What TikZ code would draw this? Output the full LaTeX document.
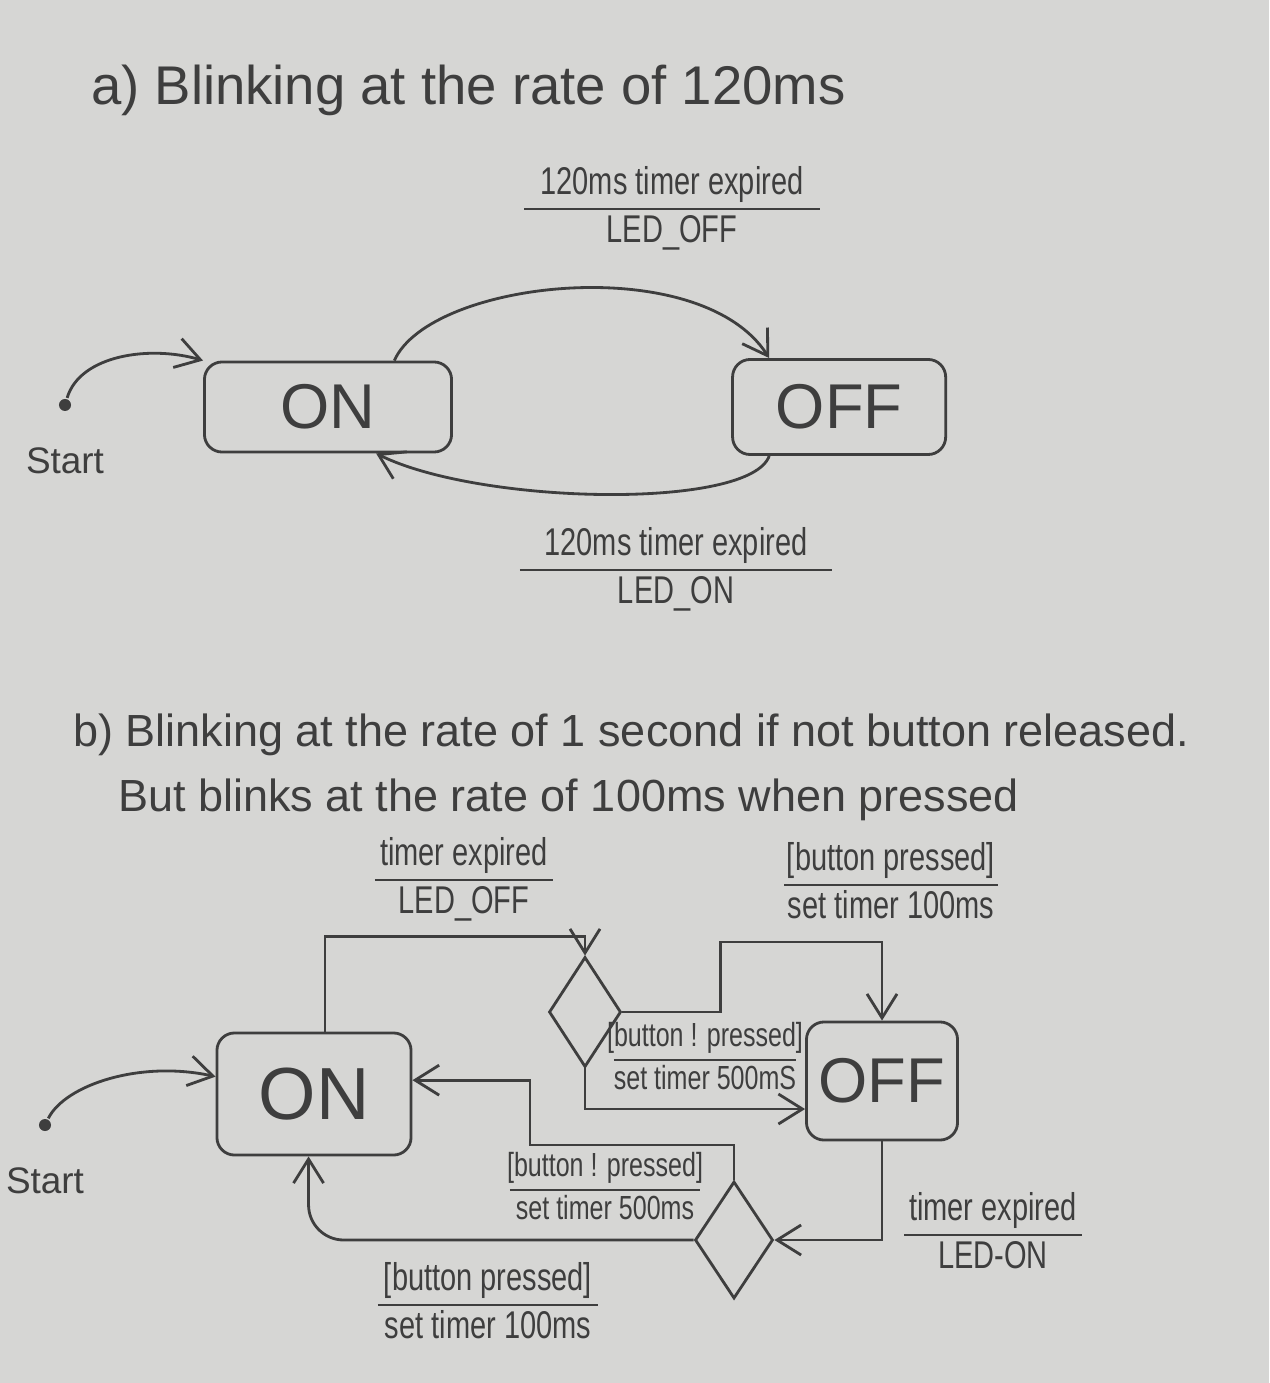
\documentclass[tikz,border=0pt]{standalone}
\usepackage{fontspec}
\setmainfont{Liberation Sans}
\usetikzlibrary{positioning,shapes.geometric,arrows.meta}

\definecolor{paper}{RGB}{214,214,212}
\definecolor{pencil}{RGB}{62,62,62}

\setlength{\arrayrulewidth}{0.7pt}
\newcommand{\guard}[3]{%
  \begin{tabular}{@{}c@{}}\makebox[#3]{\scalebox{0.75}[1]{#1}}\\\hline
  \scalebox{0.75}[1]{#2}\end{tabular}}

\tikzset{
  state/.style={draw, rounded corners=5pt, inner sep=2pt, font=\fontsize{18}{20}\selectfont},
  choice/.style={draw, diamond, inner sep=0pt},
  guardlbl/.style={font=\fontsize{11}{13}\selectfont, inner sep=0pt},
  guardsmall/.style={font=\fontsize{9.5}{11.5}\selectfont, inner sep=0pt},
  startdot/.style={circle, fill=pencil, inner sep=0pt, minimum size=0.12cm},
  starttxt/.style={font=\fontsize{10.5}{12}\selectfont},
}

\begin{document}
\begin{tikzpicture}[x=0.01cm, y=-0.01cm, >={Straight Barb[length=2.4mm,width=3mm]},
    line width=0.8pt, draw=pencil, text=pencil]
  \fill[paper] (0,0) rectangle (1269,1383);
  \useasboundingbox (0,0) rectangle (1269,1383);

  % a) two states
  \node (title_a) [anchor=west, font=\fontsize{15.5}{18}\selectfont] at (78,90) {a) Blinking at the rate of 120ms};
  \node (lbl_a1) [guardlbl] at (672,209) {\guard{120ms timer expired}{LED\_OFF}{2.95cm}};
  \node (on_a) [state, minimum width=2.47cm, minimum height=0.9cm] at (328,407) {ON};
  \node (off_a) [state, minimum width=2.13cm, minimum height=0.95cm, right=2.78cm of on_a] {OFF};
  \node (start_a) [startdot] at (65,405) {};
  \node (start_a_txt) [starttxt, below=0.22cm of start_a] {Start};
  \node (lbl_a2) [guardlbl] at (676,570) {\guard{120ms timer expired}{LED\_ON}{3.12cm}};

  \draw[->] (start_a) .. controls (80,355) and (150,345) .. (on_a.north west);
  \draw[->] (on_a.35) .. controls (430,280) and (700,250) .. (off_a.145);
  \draw[->] (off_a.215) .. controls (750,510) and (480,505) .. (on_a.316);

  % b) with button
  \node (title_b1) [anchor=west, font=\fontsize{12.8}{15}\selectfont] at (60,735) {b) Blinking at the rate of 1 second if not button released.};
  \node (title_b2) [anchor=west, font=\fontsize{12.8}{15}\selectfont] at (105,800) {But blinks at the rate of 100ms when pressed};

  \node (on_b) [state, minimum width=1.94cm, minimum height=1.22cm, font=\fontsize{21}{24}\selectfont] at (314,1094) {ON};
  \node (off_b) [state, minimum width=1.51cm, minimum height=1.18cm, font=\fontsize{18}{20}\selectfont] at (882,1081) {OFF};
  \node (ch_1) [choice, minimum width=0.72cm, minimum height=1.1cm] at (585,1012) {};
  \node (ch_2) [choice, minimum width=0.78cm, minimum height=1.17cm] at (734,1240) {};
  \node (start_b) [startdot] at (45,1125) {};
  \node (start_b_txt) [starttxt, below=0.22cm of start_b] {Start};

  \node (lbl_b1) [guardlbl] at (464,880) {\guard{timer expired}{LED\_OFF}{1.78cm}};
  \node (lbl_b2) [guardlbl] at (891,885) {\guard{[button pressed]}{set timer 100ms}{2.13cm}};
  \node (lbl_b3) [guardsmall] at (705,1060) {\guard{[button ! pressed]}{set timer 500mS}{1.7cm}};
  \node (lbl_b4) [guardsmall] at (605,1190) {\guard{[button ! pressed]}{set timer 500ms}{1.9cm}};
  \node (lbl_b5) [guardlbl] at (993,1235) {\guard{timer expired}{LED-ON}{1.77cm}};
  \node (lbl_b6) [guardlbl] at (488,1305) {\guard{[button pressed]}{set timer 100ms}{2.2cm}};

  \draw[->] (start_b) .. controls (65,1085) and (140,1060) .. (on_b.170);
  \draw[->] (on_b.80) -- ++(0,-95) -| (ch_1.north);
  \draw[->] (ch_1.south) |- (off_b.200);
  \draw[->] (ch_1.east) -| ++(98,-70) -| (off_b.north);
  \draw[->] (off_b.south) |- (ch_2.east);
  \draw[->] (ch_2.north) |- (530,1145) |- (on_b.8);
  \draw[->, rounded corners=10pt] (ch_2.west) -| (on_b.265);
\end{tikzpicture}
\end{document}
